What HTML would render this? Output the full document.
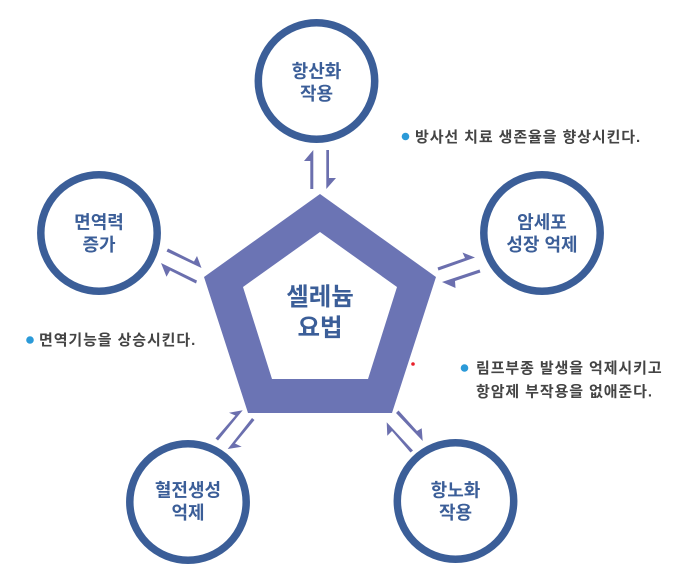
<!DOCTYPE html>
<html lang="ko"><head><meta charset="utf-8"><style>
html,body{margin:0;padding:0;background:#fff}
svg{display:block}
text{font-family:"Liberation Sans","Noto Sans CJK KR",sans-serif;font-weight:700}
.n{fill:#3b5e98;font-size:18px;text-anchor:middle}
.c{fill:#3b5e98;font-size:24.5px;text-anchor:middle}
.b{fill:#444;font-size:15px;letter-spacing:.9px}
</style></head><body>
<svg width="678" height="571" viewBox="0 0 678 571" xmlns="http://www.w3.org/2000/svg">
<path fill-rule="evenodd" fill="#6b74b4" d="M320 194L436 277L392 413H248L204 277ZM320 232L243 287L272 379H368L397 287Z"/>
<g fill="none" stroke="#3b5e98" stroke-width="7.5">
<circle cx="316.5" cy="81" r="58.2"/>
<circle cx="99" cy="233" r="58.2"/>
<circle cx="542" cy="233" r="58.2"/>
<circle cx="188" cy="502" r="58.2"/>
<circle cx="455.5" cy="501" r="58.2"/>
</g>
<g fill="#6b6fae">
<polygon points="313.3,150 304,161 310.3,161 310.3,189 313.3,189"/>
<polygon points="326.3,150 329,150 329,178 336,178 326.3,189"/>
<polygon points="437.5,267.5 465,258 462.5,252.5 475,257.5 438.5,270.5"/>
<polygon points="479.5,269.5 442,282 455.5,288 455,281 480.5,272.5"/>
<polygon points="168,248.5 194,261.5 197,256 201.5,268 166.5,251.5"/>
<polygon points="197,280.5 161,263 166.5,276.7 170,270.5 196,283.5"/>
<polygon points="215.5,438.5 235.4,415.5 229,412.7 242.7,410.3 218,440.5"/>
<polygon points="252,418 227.7,449 241.7,446.7 235,443.5 254.5,420"/>
<polygon points="398.5,410.5 417,431 421.7,428.3 422.7,441 396,413"/>
<polygon points="413,450.5 386.7,422.3 387.3,435.7 392,431 410.5,452.5"/>
</g>
<circle cx="413" cy="364" r="1.8" fill="#e8202a"/>
<g fill="#2b9ad8">
<circle cx="405.5" cy="136.5" r="3.8"/>
<circle cx="30" cy="340" r="3.8"/>
<circle cx="464.5" cy="368" r="3.8"/>
</g>
<text class="c" x="320" y="305">셀레늄</text>
<text class="c" x="320" y="336">요법</text>
<text class="n" x="316.5" y="77.5">항산화</text>
<text class="n" x="316.5" y="100">작용</text>
<text class="n" x="99" y="228.5">면역력</text>
<text class="n" x="99" y="251">증가</text>
<text class="n" x="542" y="228.5">암세포</text>
<text class="n" x="542" y="251">성장 억제</text>
<text class="n" x="188" y="496.5">혈전생성</text>
<text class="n" x="188" y="519">억제</text>
<text class="n" x="455.5" y="496.5">항노화</text>
<text class="n" x="455.5" y="519">작용</text>
<text class="b" x="415" y="142">방사선 치료 생존율을 향상시킨다.</text>
<text class="b" x="39" y="345">면역기능을 상승시킨다.</text>
<text class="b" x="476" y="373">림프부종 발생을 억제시키고</text>
<text class="b" x="476" y="396.5">항암제 부작용을 없애준다.</text>
</svg>
</body></html>
